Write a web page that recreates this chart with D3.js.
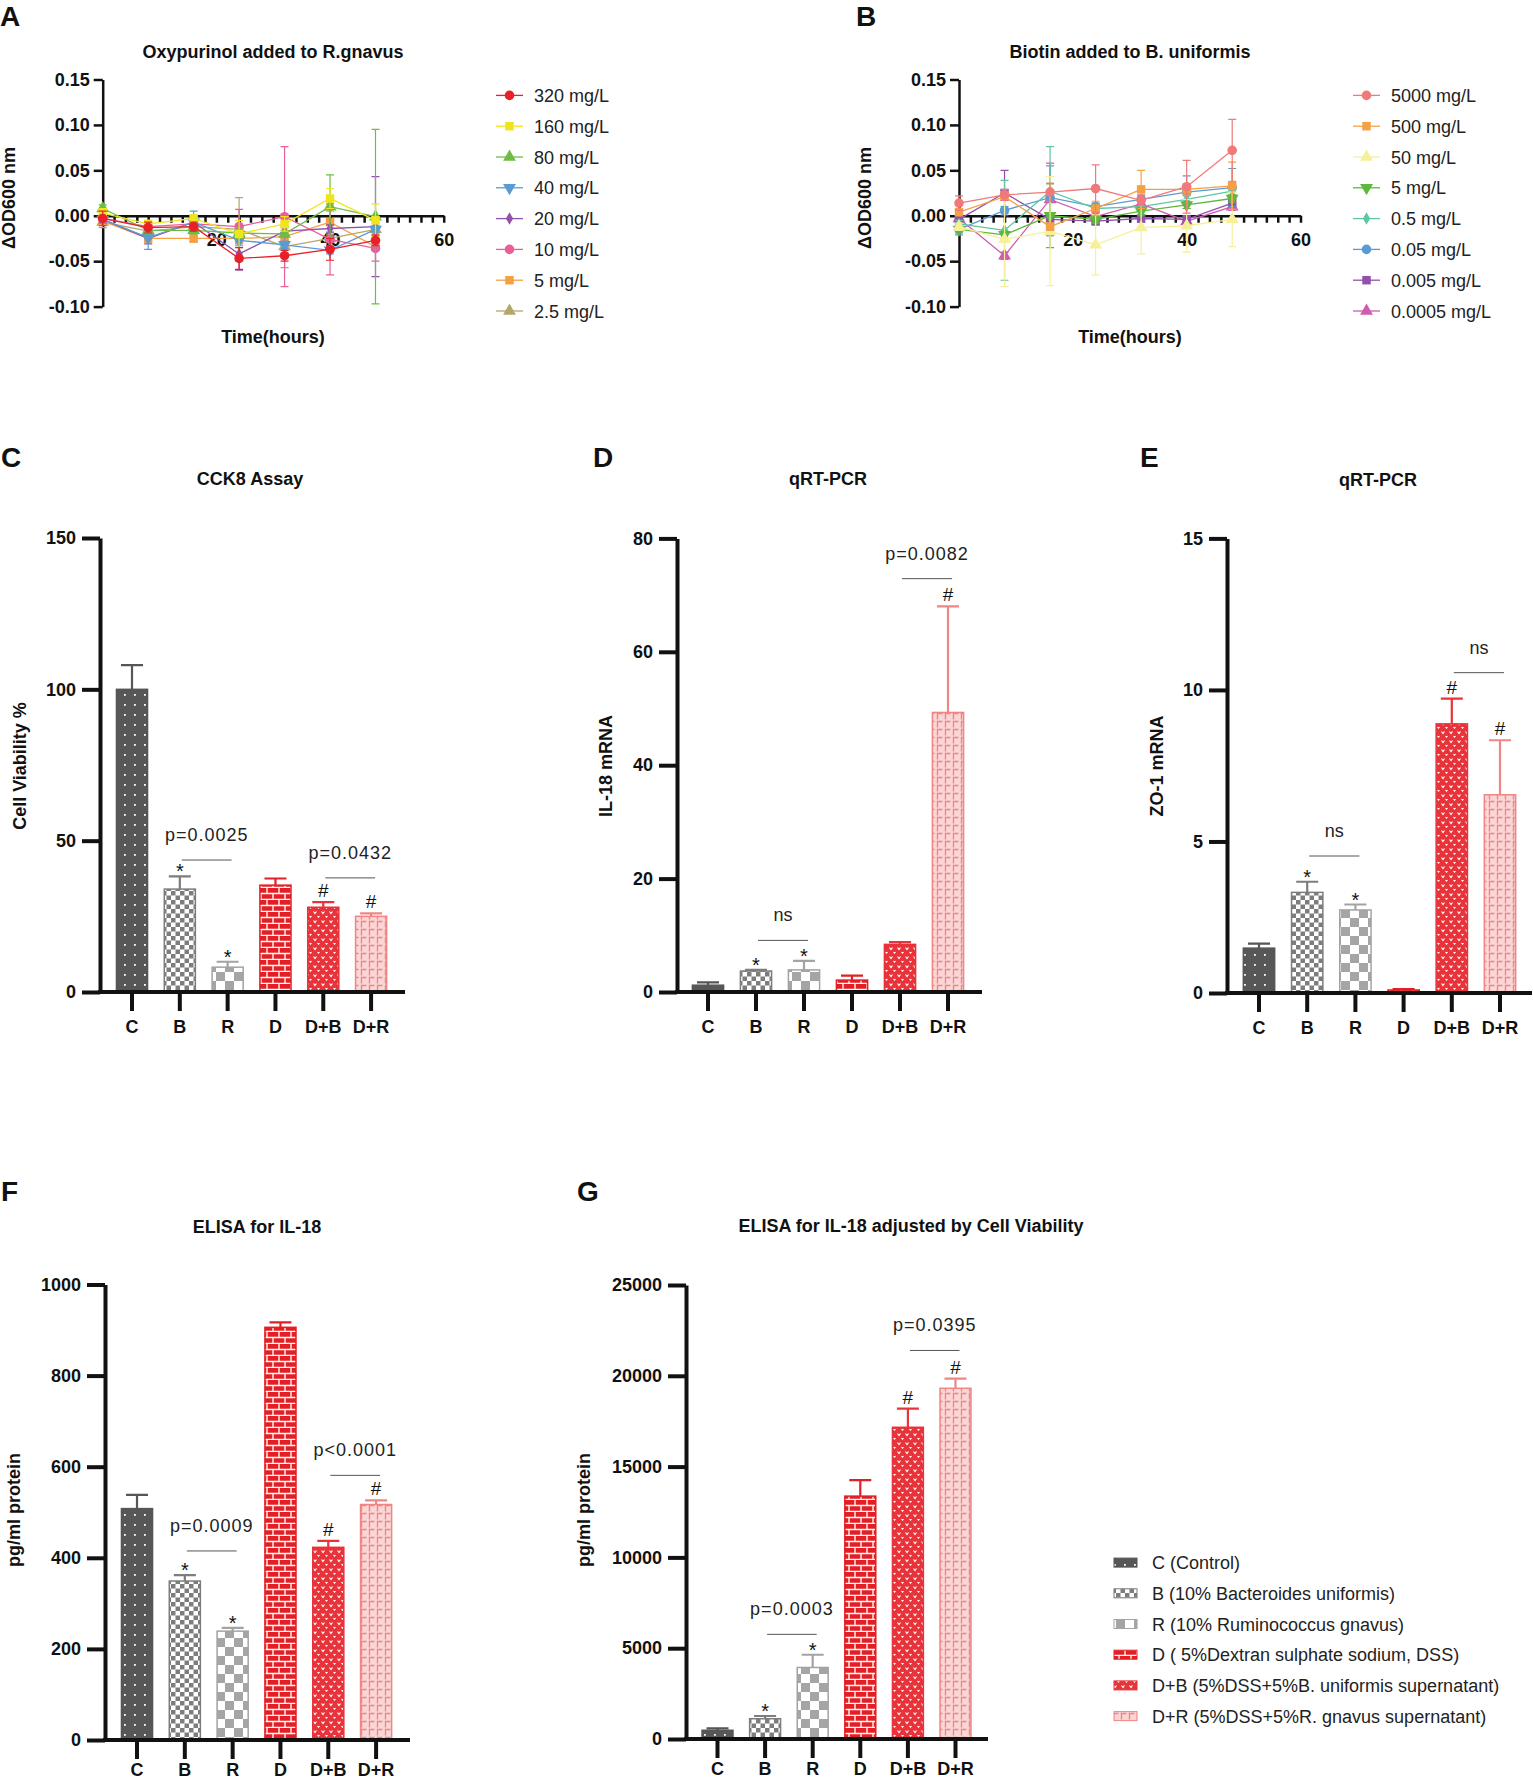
<!DOCTYPE html>
<html>
<head>
<meta charset="utf-8">
<title>Figure</title>
<style>
  body { margin: 0; background: #fff; }
  svg { display: block; font-family: "Liberation Sans", Arial, Helvetica, sans-serif; }
</style>
</head>
<body>
<svg width="1533" height="1780"></svg>
<script src="https://d3js.org/d3.v7.min.js"></script>
<script>

// ---- panels A and B: growth curves ----
var hours = [0, 8, 16, 24, 32, 40, 48];
var odTicks = [-0.10, -0.05, 0, 0.05, 0.10, 0.15];

var oxyLabels = ["320 mg/L", "160 mg/L", "80 mg/L", "40 mg/L", "20 mg/L", "10 mg/L", "5 mg/L", "2.5 mg/L"];
var oxyMeans = [
  [-0.003, -0.013, -0.012, -0.047, -0.044, -0.037, -0.027],
  [0.003, -0.009, -0.003, -0.020, -0.009, 0.019, -0.005],
  [0.008, -0.016, -0.016, -0.019, -0.020, 0.010, -0.001],
  [-0.004, -0.024, -0.007, -0.027, -0.032, -0.038, -0.015],
  [-0.004, -0.025, -0.007, -0.042, -0.017, -0.014, -0.012],
  [-0.003, -0.012, -0.009, -0.012, -0.001, -0.026, -0.036],
  [-0.006, -0.025, -0.025, -0.025, -0.023, -0.007, -0.034],
  [-0.007, -0.017, -0.012, -0.015, -0.034, -0.025, -0.015]
];
var oxyErrs = [
  [0.008, 0.006, 0.005, 0.012, 0.006, 0.012, 0.006],
  [0.005, 0.004, 0.004, 0.015, 0.008, 0.011, 0.018],
  [0.004, 0.004, 0.004, 0.006, 0.004, 0.035, 0.096],
  [0.004, 0.013, 0.012, 0.006, 0.004, 0.004, 0.004],
  [0.004, 0.006, 0.004, 0.018, 0.004, 0.004, 0.055],
  [0.004, 0.004, 0.004, 0.019, 0.077, 0.039, 0.014],
  [0.004, 0.004, 0.004, 0.004, 0.004, 0.012, 0.004],
  [0.006, 0.004, 0.004, 0.035, 0.023, 0.004, 0.004]
];
var oxyColors = ["#e8202a", "#efe51c", "#6cbd45", "#5b9bd5", "#9251ac", "#e8609a", "#f5a043", "#b3a86c"];
var oxyShapes = ["circle", "square", "triangle", "down", "diamond", "circle", "square", "triangle"];

var bioLabels = ["5000 mg/L", "500 mg/L", "50 mg/L", "5 mg/L", "0.5 mg/L", "0.05 mg/L", "0.005 mg/L", "0.0005 mg/L"];
var bioMeans = [
  [0.014, 0.023, 0.026, 0.030, 0.017, 0.032, 0.072],
  [0.004, 0.021, -0.012, 0.008, 0.029, 0.029, 0.033],
  [-0.012, -0.026, -0.017, -0.032, -0.013, -0.011, -0.004],
  [-0.015, -0.021, 0.000, -0.004, 0.005, 0.012, 0.019],
  [-0.009, -0.016, 0.027, 0.008, 0.010, 0.018, 0.027],
  [-0.015, 0.006, 0.020, 0.010, 0.018, 0.026, 0.031],
  [-0.004, 0.025, -0.004, -0.006, -0.003, -0.004, 0.014],
  [-0.003, -0.044, 0.018, -0.001, 0.013, -0.006, 0.010]
];
var bioErrs = [
  [0.008, 0.006, 0.010, 0.026, 0.006, 0.029, 0.034],
  [0.004, 0.004, 0.004, 0.008, 0.021, 0.006, 0.026],
  [0.004, 0.052, 0.060, 0.033, 0.029, 0.029, 0.030],
  [0.004, 0.004, 0.035, 0.004, 0.004, 0.004, 0.004],
  [0.004, 0.055, 0.049, 0.004, 0.004, 0.004, 0.004],
  [0.006, 0.004, 0.035, 0.004, 0.004, 0.018, 0.021],
  [0.004, 0.025, 0.004, 0.004, 0.004, 0.004, 0.004],
  [0.004, 0.004, 0.040, 0.004, 0.004, 0.004, 0.004]
];
var bioColors = ["#f07a7a", "#f5a043", "#f7f09a", "#5fb83e", "#5ec7a0", "#5b9bd5", "#9251ac", "#d05cae"];
var bioShapes = ["circle", "square", "triangle", "down", "diamond", "circle", "square", "triangle"];

// ---- panels C-G: bar charts ----
var groups = ["C", "B", "R", "D", "D+B", "D+R"];
var groupLegend = ["C (Control)", "B (10% Bacteroides uniformis)", "R (10% Ruminococcus gnavus)",
  "D ( 5%Dextran sulphate sodium, DSS)", "D+B (5%DSS+5%B. uniformis supernatant)", "D+R (5%DSS+5%R. gnavus supernatant)"];

var cckMean = [100, 34, 8.2, 35.3, 28, 25];
var cckErr = [8, 4.2, 1.8, 2.2, 1.7, 1];
var cckMarks = ["", "*", "*", "", "#", "#"];
var cckBrackets = [{ a: "B", b: "R", v: 43.6, text: "p=0.0025" }, { a: "D+B", b: "D+R", v: 37.7, text: "p=0.0432" }];

var il18Mean = [1.2, 3.7, 3.9, 2.1, 8.4, 49.3];
var il18Err = [0.5, 0.2, 1.6, 0.8, 0.4, 18.7];
var il18Marks = ["", "*", "*", "", "", "#"];
var il18Brackets = [{ a: "B", b: "R", v: 9.1, text: "ns" }, { a: "D+B", b: "D+R", v: 72.9, text: "p=0.0082" }];

var zo1Mean = [1.48, 3.32, 2.74, 0.1, 8.88, 6.54];
var zo1Err = [0.15, 0.35, 0.18, 0.03, 0.83, 1.8];
var zo1Marks = ["", "*", "*", "", "#", "#"];
var zo1Brackets = [{ a: "B", b: "R", v: 4.52, text: "ns" }, { a: "D+B", b: "D+R", v: 10.57, text: "ns" }];

var elisaMean = [508, 349, 239, 906, 423, 517];
var elisaErr = [30, 13, 7, 11, 14, 9];
var elisaMarks = ["", "*", "*", "", "#", "#"];
var elisaBrackets = [{ a: "B", b: "R", v: 415, text: "p=0.0009" }, { a: "D+B", b: "D+R", v: 581, text: "p<0.0001" }];

var adjMean = [480, 1116, 3938, 13374, 17165, 19313];
var adjErr = [100, 150, 700, 885, 1030, 530];
var adjMarks = ["", "*", "*", "", "#", "#"];
var adjBrackets = [{ a: "B", b: "R", v: 5763, text: "p=0.0003" }, { a: "D+B", b: "D+R", v: 21395, text: "p=0.0395" }];

var svg = d3.select("svg");
var INK = "#111";

// ---- fill patterns ----
var defs = svg.append("defs");
function pattern(id, w, h, bg) {
  var p = defs.append("pattern").attr("id", id)
    .attr("patternUnits", "userSpaceOnUse").attr("width", w).attr("height", h);
  p.append("rect").attr("width", w).attr("height", h).attr("fill", bg);
  return p;
}
var p;
p = pattern("pC", 10, 10, "#575757");
p.append("rect").attr("x", 4).attr("y", 4).attr("width", 1.8).attr("height", 1.8).attr("fill", "#fff");

p = pattern("pB", 9, 9, "#fff");
p.append("rect").attr("width", 4.5).attr("height", 4.5).attr("fill", "#7d7d7d");
p.append("rect").attr("x", 4.5).attr("y", 4.5).attr("width", 4.5).attr("height", 4.5).attr("fill", "#7d7d7d");

p = pattern("pR", 18, 18, "#fff");
p.append("rect").attr("width", 9).attr("height", 9).attr("fill", "#a5a5a5");
p.append("rect").attr("x", 9).attr("y", 9).attr("width", 9).attr("height", 9).attr("fill", "#a5a5a5");

p = pattern("pD", 12, 12, "#e31e24");
p.append("path").attr("d", "M0,5.5H12M0,11.5H12M3,0V5.5M9,5.5V11.5")
  .attr("stroke", "#fff").attr("stroke-width", 1.3).attr("fill", "none");

p = pattern("pDB", 8, 9, "#e8333a");
p.append("path").attr("d", "M1.5,2.5L3,4.5L4.5,2.5M5.5,7L6.5,8.2L7.5,7")
  .attr("stroke", "#fff").attr("stroke-width", 1.1).attr("fill", "none");

p = pattern("pDR", 8, 8, "#fbd6d6");
p.append("path").attr("d", "M1.5,7.5V1.5H6.5")
  .attr("stroke", "#f08585").attr("stroke-width", 1.4).attr("fill", "none");

var groupFill = ["url(#pC)", "url(#pB)", "url(#pR)", "url(#pD)", "url(#pDB)", "url(#pDR)"];
var groupStroke = ["#565656", "#7d7d7d", "#a3a3a3", "#e31e24", "#e8333a", "#f08585"];

// ---- helpers ----
function styleAxis(sel, w) {
  sel.attr("font-family", null).attr("font-size", 18).attr("font-weight", "bold");
  sel.selectAll("path, line").attr("stroke", INK).attr("stroke-width", w);
  sel.selectAll("text").attr("fill", INK);
}

function label(txt, x, y, size, weight, anchor) {
  return svg.append("text").attr("x", x).attr("y", y)
    .attr("font-size", size).attr("font-weight", weight || "normal")
    .attr("text-anchor", anchor || "middle").attr("fill", INK).text(txt);
}

function vlabel(txt, x, y) {
  svg.append("text").attr("transform", "translate(" + x + "," + y + ") rotate(-90)")
    .attr("font-size", 18).attr("font-weight", "bold").attr("text-anchor", "middle")
    .attr("fill", INK).text(txt);
}

function symbolPath(shape, size) {
  var t = { circle: d3.symbolCircle, square: d3.symbolSquare, triangle: d3.symbolTriangle,
            down: d3.symbolTriangle, diamond: d3.symbolDiamond }[shape];
  return d3.symbol().type(t).size(size)();
}

// ---- line panel ----
function drawLinePanel(o) {
  var x = d3.scaleLinear().domain([0, 60]).range([o.left, o.right]);
  var y = d3.scaleLinear().domain([-0.10, 0.15]).range([o.bottom, o.top]);

  var ya = svg.append("g").attr("transform", "translate(" + o.left + ",0)")
    .call(d3.axisLeft(y).tickValues(odTicks).tickSize(9).tickSizeOuter(0).tickPadding(4)
      .tickFormat(function (d) { return d.toFixed(2); }));
  styleAxis(ya, 2.5);

  var xa = svg.append("g").attr("transform", "translate(0," + y(0) + ")")
    .call(d3.axisBottom(x).tickValues(d3.range(0, 61, 2)).tickSize(7).tickSizeOuter(0).tickPadding(10)
      .tickFormat(function (d) { return d > 0 && d % 20 === 0 ? d : ""; }));
  styleAxis(xa, 2.5);

  var line = d3.line().x(function (d) { return x(d.h); }).y(function (d) { return y(d.v); });

  for (var i = o.means.length - 1; i >= 0; i--) {
    var col = o.colors[i];
    var pts = hours.map(function (h, j) { return { h: h, v: o.means[i][j], e: o.errs[i][j] }; });
    var sg = svg.append("g");
    sg.selectAll(".eb").data(pts).enter().append("path")
      .attr("d", function (d) {
        var cx = x(d.h), y1 = y(d.v - d.e), y2 = y(d.v + d.e);
        return "M" + cx + "," + y1 + "V" + y2 + "M" + (cx - 4) + "," + y1 + "H" + (cx + 4) +
          "M" + (cx - 4) + "," + y2 + "H" + (cx + 4);
      })
      .attr("stroke", col).attr("stroke-width", 1.2).attr("fill", "none");
    sg.append("path").datum(pts).attr("d", line)
      .attr("stroke", col).attr("stroke-width", 1.3).attr("fill", "none");
    var shape = o.shapes[i];
    sg.selectAll(".mk").data(pts).enter().append("path")
      .attr("d", symbolPath(shape, shape === "diamond" ? 45 : 72))
      .attr("transform", function (d) {
        return "translate(" + x(d.h) + "," + y(d.v) + ")" + (shape === "down" ? " rotate(180)" : "");
      })
      .attr("fill", col);
  }

  // legend
  o.labels.forEach(function (t, i) {
    var yy = o.legY + i * o.legStep;
    svg.append("line").attr("x1", o.legX).attr("x2", o.legX + 27).attr("y1", yy).attr("y2", yy)
      .attr("stroke", o.colors[i]).attr("stroke-width", 1.3);
    svg.append("path").attr("d", symbolPath(o.shapes[i], o.shapes[i] === "diamond" ? 45 : 72))
      .attr("transform", "translate(" + (o.legX + 13.5) + "," + yy + ")" + (o.shapes[i] === "down" ? " rotate(180)" : ""))
      .attr("fill", o.colors[i]);
    label(t, o.legX + 38, yy + 6.5, 18, "normal", "start").attr("fill", "#222");
  });

  label(o.title, o.titleX, 58, 18, "bold");
  label("Time(hours)", o.titleX, 343, 18, "bold");
  vlabel("\u0394OD600 nm", o.ylabX, 198);
  label(o.letter, o.letterX, 26, 28, "bold", "start");
}

// ---- bar panel ----
function drawBarPanel(o) {
  var x = d3.scaleBand().domain(groups).range([o.bandStart, o.bandEnd])
    .paddingInner(0.35).paddingOuter(0.175);
  var y = d3.scaleLinear().domain([0, o.max]).range([o.bottom, o.top]);
  var bw = x.bandwidth();
  var rows = groups.map(function (g, i) { return { g: g, i: i, v: o.means[i], e: o.errs[i], m: o.marks[i] }; });

  var g = svg.append("g");
  g.selectAll(".bar").data(rows).enter().append("rect")
    .attr("x", function (d) { return x(d.g); })
    .attr("y", function (d) { return y(d.v); })
    .attr("width", bw)
    .attr("height", function (d) { return y(0) - y(d.v); })
    .attr("fill", function (d) { return groupFill[d.i]; })
    .attr("stroke", function (d) { return groupStroke[d.i]; })
    .attr("stroke-width", 1.5);

  g.selectAll(".err").data(rows).enter().append("path")
    .attr("d", function (d) {
      var cx = x(d.g) + bw / 2, yt = y(d.v + d.e);
      return "M" + cx + "," + y(d.v) + "V" + yt + "M" + (cx - 11) + "," + yt + "H" + (cx + 11);
    })
    .attr("stroke", function (d) { return groupStroke[d.i]; })
    .attr("stroke-width", 2.2).attr("fill", "none");

  g.selectAll(".mark").data(rows.filter(function (d) { return d.m; })).enter().append("text")
    .attr("x", function (d) { return x(d.g) + bw / 2; })
    .attr("y", function (d) { return y(d.v + d.e) + (d.m === "*" ? 2 : -5); })
    .attr("text-anchor", "middle").attr("font-size", d => d.m === "*" ? 20 : 19).attr("fill", INK)
    .text(function (d) { return d.m; });

  o.brackets.forEach(function (b) {
    var xa = x(b.a) + bw / 2 + 2, xb = x(b.b) + bw / 2 + 4, yy = y(b.v);
    g.append("line").attr("x1", xa).attr("x2", xb).attr("y1", yy).attr("y2", yy)
      .attr("stroke", "#555").attr("stroke-width", 1);
    g.append("text").attr("x", (xa + xb) / 2).attr("y", yy - 19)
      .attr("text-anchor", "middle").attr("font-size", 18).attr("letter-spacing", b.text === "ns" ? 0 : 1)
      .attr("fill", "#222").text(b.text);
  });

  var ya = svg.append("g").attr("transform", "translate(" + o.x0 + ",0)")
    .call(d3.axisLeft(y).tickValues(o.ticks).tickSize(18).tickSizeOuter(0).tickPadding(6)
      .tickFormat(d3.format("d")));
  styleAxis(ya, 4);

  var xa = svg.append("g").attr("transform", "translate(0," + y(0) + ")")
    .call(d3.axisBottom(x).tickSize(19).tickSizeOuter(0).tickPadding(o.xPad));
  styleAxis(xa, 4);
  xa.select(".domain").remove();
  svg.append("line").attr("x1", o.x0 - 2).attr("x2", o.xEnd).attr("y1", y(0)).attr("y2", y(0))
    .attr("stroke", INK).attr("stroke-width", 4);

  label(o.title, o.titleX, o.titleY, 18, "bold");
  vlabel(o.ylabel, o.ylabX, o.ylabY);
  label(o.letter, o.letterX, o.letterY, 28, "bold", "start");
}

drawLinePanel({ left: 102.7, right: 443.7, top: 79.5, bottom: 306.6,
  means: oxyMeans, errs: oxyErrs, colors: oxyColors, shapes: oxyShapes, labels: oxyLabels,
  legX: 496, legY: 95.4, legStep: 30.8, title: "Oxypurinol added to R.gnavus", titleX: 273,
  ylabX: 15, letter: "A", letterX: 0 });

drawLinePanel({ left: 959, right: 1300.5, top: 79.5, bottom: 306.6,
  means: bioMeans, errs: bioErrs, colors: bioColors, shapes: bioShapes, labels: bioLabels,
  legX: 1353, legY: 95.4, legStep: 30.8, title: "Biotin added to B. uniformis", titleX: 1130,
  ylabX: 871, letter: "B", letterX: 856 });

drawBarPanel({ means: cckMean, errs: cckErr, marks: cckMarks, brackets: cckBrackets,
  max: 150, ticks: [0, 50, 100, 150], x0: 100, xEnd: 405, bandStart: 108.1, bandEnd: 395, xPad: 9,
  top: 538, bottom: 992, title: "CCK8 Assay", titleX: 250, titleY: 485,
  ylabel: "Cell Viability %", ylabX: 26, ylabY: 766, letter: "C", letterX: 1, letterY: 467 });

drawBarPanel({ means: il18Mean, errs: il18Err, marks: il18Marks, brackets: il18Brackets,
  max: 80, ticks: [0, 20, 40, 60, 80], x0: 677, xEnd: 982, bandStart: 684, bandEnd: 972, xPad: 9,
  top: 538.4, bottom: 992, title: "qRT-PCR", titleX: 828, titleY: 485,
  ylabel: "IL-18 mRNA", ylabX: 612, ylabY: 766, letter: "D", letterX: 593, letterY: 467 });

drawBarPanel({ means: zo1Mean, errs: zo1Err, marks: zo1Marks, brackets: zo1Brackets,
  max: 15, ticks: [0, 5, 10, 15], x0: 1227, xEnd: 1532, bandStart: 1234.9, bandEnd: 1524.1, xPad: 9,
  top: 538.4, bottom: 993, title: "qRT-PCR", titleX: 1378, titleY: 486,
  ylabel: "ZO-1 mRNA", ylabX: 1163, ylabY: 766, letter: "E", letterX: 1140, letterY: 467 });

drawBarPanel({ means: elisaMean, errs: elisaErr, marks: elisaMarks, brackets: elisaBrackets,
  max: 1000, ticks: [0, 200, 400, 600, 800, 1000], x0: 105, xEnd: 410, bandStart: 113.1, bandEnd: 400, xPad: 4,
  top: 1284.5, bottom: 1740, title: "ELISA for IL-18", titleX: 257, titleY: 1233,
  ylabel: "pg/ml protein", ylabX: 20, ylabY: 1510, letter: "F", letterX: 1, letterY: 1201 });

drawBarPanel({ means: adjMean, errs: adjErr, marks: adjMarks, brackets: adjBrackets,
  max: 25000, ticks: [0, 5000, 10000, 15000, 20000, 25000], x0: 686, xEnd: 988, bandStart: 693.7, bandEnd: 979.3, xPad: 4,
  top: 1285, bottom: 1739, title: "ELISA for IL-18 adjusted by Cell Viability", titleX: 911, titleY: 1232,
  ylabel: "pg/ml protein", ylabX: 590, ylabY: 1510, letter: "G", letterX: 577, letterY: 1201 });

// ---- group legend ----
groupLegend.forEach(function (t, i) {
  var yy = 1562.6 + i * 30.7;
  svg.append("rect").attr("x", 1114).attr("y", yy - 4.5).attr("width", 23).attr("height", 9)
    .attr("fill", groupFill[i]).attr("stroke", groupStroke[i]).attr("stroke-width", 1);
  label(t, 1152, yy + 6.5, 18, "normal", "start").attr("fill", "#222");
});

</script>
</body>
</html>
